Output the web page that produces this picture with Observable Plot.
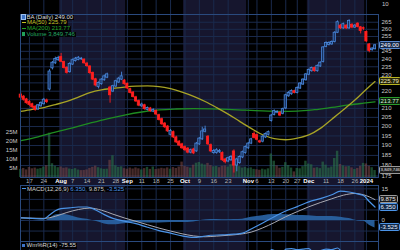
<!DOCTYPE html>
<html><head><meta charset="utf-8">
<script src="https://cdn.jsdelivr.net/npm/d3@7"></script>
<script src="https://cdn.jsdelivr.net/npm/@observablehq/plot@0.6"></script>
<style>
body{margin:0;background:#000;}
#c{position:relative;width:400px;height:250px;overflow:hidden;background:#000;font-family:"Liberation Sans",Arial,sans-serif;}
#c svg{position:absolute;left:0;}
.lg{position:absolute;font-size:6px;line-height:5.7px;white-space:nowrap;}
.lg div{background:rgba(0,0,0,0.85);display:table;padding-right:1px;}
.ic{display:inline-block;width:3.5px;height:3.5px;margin:0 1.5px 0 0.5px;vertical-align:0px;}
.ln{display:inline-block;width:4px;height:1px;margin:0 1.5px 1.5px 0.5px;}
.bx{position:absolute;left:378.5px;font-size:6px;line-height:6px;height:6px;padding:0 1px;border:1px solid;border-radius:1.5px;white-space:nowrap;color:#fff;}
</style></head>
<body><div id="c"></div>
<script>
// ---------- data ----------
const firstIndex = 2; // trading-day index of the first visible candle (2023-07-12)
const opens  = [218.0,216.8,215.2,213.8,212.4,211.0,209.4,211.2,212.4,214.6,221.0,234.0,237.2,239.2,241.2,238.0,234.4,231.6,236.4,238.6,239.4,239.8,239.6,237.0,235.2,231.2,227.2,222.6,224.2,226.6,228.2,222.2,219.8,222.8,225.2,227.0,226.4,224.4,221.2,219.2,216.4,214.2,211.2,211.8,209.2,210.0,208.2,208.6,206.2,204.0,201.6,200.0,195.6,197.0,194.2,192.0,190.6,189.2,188.4,186.4,188.0,187.0,190.6,193.2,197.2,194.6,190.2,186.2,186.2,186.6,186.2,183.0,182.0,182.6,187.0,180.0,181.2,184.0,186.2,188.6,191.0,196.0,195.4,192.2,192.0,194.2,195.6,203.0,206.4,207.6,207.6,207.0,210.0,217.0,218.2,220.0,219.0,221.6,224.0,226.6,230.0,232.2,234.2,232.2,235.2,238.0,248.0,249.2,249.6,251.2,257.6,262.6,260.6,262.6,260.6,263.2,261.2,264.0,261.4,260.8,258.2,249.6,245.8,246.4];
const highs  = [219.0,217.5,215.8,214.5,213.0,211.6,212.3,213.8,215.8,215.4,233.2,238.4,241.2,241.8,243.6,238.6,235.0,237.6,240.0,241.0,241.6,241.0,240.0,237.8,235.6,231.6,227.8,225.6,227.6,229.8,231.0,223.0,223.6,226.6,228.4,231.6,227.0,225.0,221.8,219.8,217.0,214.8,213.0,212.4,210.8,210.6,209.8,209.2,206.8,204.6,202.2,200.6,198.4,197.6,194.8,192.6,191.2,189.8,189.0,188.2,188.6,191.6,194.2,199.6,200.2,195.2,190.8,188.0,188.4,188.0,186.8,183.6,184.2,185.0,187.8,183.6,184.8,187.2,189.8,191.6,193.8,197.2,196.0,192.8,195.2,196.6,197.6,206.6,209.2,208.8,208.2,210.2,218.2,219.8,220.8,220.6,222.6,225.2,227.6,230.8,233.6,234.8,234.8,236.2,238.2,248.2,251.4,251.4,252.0,258.4,266.0,263.4,264.4,263.2,266.8,264.0,263.4,264.6,262.0,261.6,258.8,250.2,247.6,249.6];
const lows   = [215.5,214.2,212.4,211.2,210.0,208.4,209.0,210.6,212.0,212.8,220.2,233.0,236.4,238.4,237.6,233.6,230.4,231.0,235.8,238.0,238.8,239.0,236.6,234.6,230.2,226.4,222.6,221.4,223.6,226.0,227.6,213.0,219.2,222.2,224.6,226.4,223.6,221.0,218.4,216.0,213.4,211.0,210.6,209.0,208.6,207.8,207.6,206.0,203.0,200.6,199.0,196.8,195.0,193.6,191.0,189.4,188.0,187.0,185.8,185.8,185.4,186.6,190.0,192.6,196.6,190.0,186.4,185.6,185.6,186.0,182.0,180.8,181.4,182.0,176.4,177.0,180.6,183.4,185.6,188.0,190.4,193.4,192.4,191.0,191.4,193.6,195.0,202.4,205.8,207.0,205.4,206.4,209.4,216.4,217.6,218.4,218.4,221.0,223.4,226.0,229.4,231.6,231.6,231.6,234.6,237.4,247.4,248.6,249.0,250.6,257.0,259.8,260.0,259.8,260.0,260.4,260.6,261.0,256.8,259.2,251.0,244.0,245.0,245.8];
const closes = [216.2,215.0,213.0,212.0,210.6,209.2,211.8,213.2,215.0,213.6,232.0,237.6,240.0,240.6,238.2,234.2,231.2,236.8,239.2,240.2,240.8,240.2,237.2,235.4,231.0,227.0,223.4,225.0,227.0,229.0,230.2,217.6,223.0,226.0,227.6,229.0,224.2,221.6,219.0,216.6,214.0,211.6,212.2,209.6,210.2,208.4,209.2,206.6,203.6,201.2,199.6,197.4,197.6,194.2,191.6,190.0,188.6,187.6,186.4,187.6,186.0,191.0,193.6,197.4,198.4,190.6,187.0,187.2,187.6,187.2,182.6,181.6,183.6,184.2,180.0,183.0,184.2,186.6,189.2,191.0,193.2,194.0,193.0,191.6,194.6,196.0,197.0,206.0,208.6,208.0,206.0,209.6,217.6,219.0,220.2,219.0,222.0,224.6,227.0,230.2,233.0,234.2,232.2,235.6,237.6,247.6,250.6,250.6,251.2,257.6,265.0,260.6,263.6,260.6,266.0,261.2,262.6,261.6,258.8,260.4,251.6,245.2,246.8,249.0];
const volumesM = [4.5,5.0,4.2,5.5,4.8,5.2,4.6,4.9,5.8,6.5,24.5,7.6,6.2,5.4,5.8,5.1,5.3,4.7,4.4,4.9,4.1,3.8,3.9,4.2,5.0,5.6,6.3,5.4,4.8,4.5,4.6,9.5,12.0,6.5,5.6,5.9,4.9,4.6,5.2,4.7,5.3,4.8,4.2,4.9,5.6,4.5,5.8,4.4,4.7,5.1,4.8,5.3,4.6,5.5,5.0,5.8,8.5,6.2,5.7,5.2,6.8,7.9,8.3,7.4,6.9,7.8,6.6,5.9,6.1,5.4,6.2,6.4,5.8,7.1,9.3,7.6,6.0,5.2,5.6,4.9,5.3,4.5,4.3,4.0,4.6,4.2,4.8,13.0,9.0,6.4,5.1,5.6,8.2,6.6,5.2,3.1,5.0,4.8,6.0,9.0,7.4,7.0,5.1,5.4,4.9,8.5,6.8,5.2,5.8,10.5,14.5,7.2,6.4,5.9,6.1,5.3,4.4,5.0,6.2,7.8,7.5,6.2,5.4,3.85];

const ma50Idx = [2,6,10,14,18,22,26,30,34,38,42,46,50,54,58,62,66,70,74,78,82,86,90,94,98,102,106,110,114,118,122,125];
const ma50Val = [208.3,209.5,210.5,212.2,214.0,216.5,219.2,220.8,221.7,222.5,223.0,223.2,222.8,221.5,219.5,217.0,214.0,210.5,206.8,202.8,199.0,195.6,193.6,193.0,193.8,195.5,199.0,204.0,209.2,214.8,221.2,225.79];
const ma200Idx = [2,8,14,20,26,32,38,44,50,56,62,68,74,80,86,92,98,104,110,116,121,125];
const ma200Val = [192.5,194.5,197.0,199.3,201.8,204.2,206.3,208.0,209.2,209.7,209.9,209.8,209.5,209.0,208.6,208.4,208.5,209.3,210.6,212.0,213.0,213.77];

const macdIdx = [2,6,10,12,14,16,19,22,25,28,31,34,38,42,46,50,54,58,62,65,68,72,76,79,82,86,90,94,98,102,106,110,113,116,119,121,123,125];
const macdVal = [1.2,1.0,0.8,2.6,4.6,5.6,6.0,6.4,6.4,5.0,2.8,1.0,-0.3,-1.5,-3.2,-4.8,-6.0,-7.3,-8.0,-7.6,-7.0,-6.8,-6.5,-6.0,-4.0,-1.2,1.8,4.5,6.6,8.8,10.4,12.2,13.9,13.5,12.6,11.8,9.0,6.35];
const signalIdx = [2,10,14,18,22,26,30,34,38,42,46,50,54,58,62,66,70,74,78,82,86,90,94,98,102,106,110,114,118,121,123,125];
const signalVal = [1.3,1.0,2.0,3.8,5.2,5.9,4.9,3.0,1.2,-0.4,-2.0,-3.6,-5.0,-6.3,-7.3,-7.7,-7.4,-7.0,-6.5,-5.5,-3.5,-1.0,1.8,4.2,6.5,8.5,10.3,12.0,12.8,12.2,11.2,9.875];
const histIdx = macdIdx;
const histVal = [-0.1,0.0,-0.2,0.8,2.6,3.0,2.4,1.2,0.6,-0.4,-1.6,-2.0,-1.5,-1.1,-1.2,-1.2,-1.0,-1.0,-0.7,0.1,0.5,0.4,0.5,0.6,1.5,2.3,2.8,2.7,2.4,2.3,1.9,1.9,1.6,0.9,-0.2,-0.4,-2.2,-3.525];
const wrIdx = [2,5,8,10,12,14,16,18,20,23,26,28,31,33,35,37,40,43,46,50,54,58,62,65,67,70,73,76,79,82,84,86,88,89,91,93,94,96,98,100,102,104,106,108,110,112,114,116,118,120,122,123,125];
const wrVal = [-70,-85,-75,-45,-12,-6,-10,-45,-22,-18,-55,-88,-45,-85,-40,-28,-75,-92,-80,-90,-82,-92,-85,-25,-62,-75,-85,-90,-50,-25,-35,-30,-20,-4,-8,-10,-3,-2,-4,-3,-2,-12,-6,-3,-4,-1,-10,-6,-15,-30,-70,-90,-75.55];

const tickIdx = [5,10,16,20,25,30,35,39,44,49,54,59,64,69,74,81,84,89,94,98,102,108,113,118,122];
const tickLabels = ["17","24","Aug","7","14","21","28","Sep","11","18","25","Oct","9","16","23","Nov","6","13","20","27","Dec","11","18","26","2024"];
const monthNames = ["Aug","Sep","Oct","Nov","Dec","2024"];
const monthEdges = [1.9,15.5,38.5,58.5,80.5,101.5,121.5,126.2];
const priceGridTicks = [175,180,185,190,195,200,205,210,215,220,225,230,235,240,245,250,255,260,265];
const priceLabelTicks = [175,180,185,190,195,200,205,210,220,230,235,240,245,255,260,265]; // 215, 225, 250 sit under the value boxes
const volTicks = [5,10,15,20,25];
const macdGrid = [15,10,5,0,-5];
const macdTicks = [15,0];
const topPanelTick = "10";

const lastClose = 249.00, lastMa50 = 225.79, lastMa200 = 213.77, lastVolume = 3849746;
const lastMacd = 6.350, lastSignal = 9.875, lastHist = -3.525, lastWr = -75.55;

// ---------- tables ----------
const candles = opens.map((o,k) => ({
  i: k + firstIndex, o, h: highs[k], l: lows[k], c: closes[k], up: closes[k] >= o,
  vol: volumesM[k], volUp: k === 0 ? true : closes[k] >= closes[k-1]
}));
const pairs = (ix, vs) => ix.map((i,k) => ({i, v: vs[k]}));
const ma50 = pairs(ma50Idx, ma50Val), ma200 = pairs(ma200Idx, ma200Val);
const macd = pairs(macdIdx, macdVal), signal = pairs(signalIdx, signalVal), hist = pairs(histIdx, histVal);
const wr = pairs(wrIdx, wrVal);
const xLabels = tickIdx.map((i,k) => ({i, t: tickLabels[k], month: monthNames.includes(tickLabels[k])}));
const bands = monthEdges.slice(0,-1).map((s,k) => ({s, e: monthEdges[k+1], navy: k % 2 === 1}));

// ---------- style ----------
const GRID = "#1a2a4c", BORDER = "#2a4a7e", NAVY = "#16162e";
const BLUE = "#4a88dc", BLUEFILL = "#17315e", RED = "#ff1f1f";
const xDomain = [monthEdges[0], monthEdges[monthEdges.length-1]];
const base = {
  width: 400, marginLeft: 20, marginRight: 22,
  x: {domain: xDomain, axis: null},
  color: {type: "identity"},
  style: "background:transparent;overflow:visible;font-family:'Liberation Sans',Arial,sans-serif;"
};
const c = document.getElementById("c");
function place(svg, top) { svg.style.top = top + "px"; c.appendChild(svg); return svg; }

// background month bands + weekly grid
place(Plot.plot({...base, height: 250, marginTop: 0, marginBottom: 0,
  y: {domain: [0,1], axis: null},
  marks: [
    Plot.rect(bands, {x1: "s", x2: "e", y1: 0, y2: 1, fill: d => d.navy ? NAVY : "#000"}),
    Plot.ruleX(tickIdx, {stroke: GRID, strokeWidth: 1})
  ]}), 0);

const priceY = {type: "log", domain: [174.3, 270.6]};
const mainGeom = {height: 185, marginTop: 14, marginBottom: 8};

// price grid
place(Plot.plot({...base, ...mainGeom, y: {...priceY, axis: null},
  marks: [Plot.ruleY(priceGridTicks, {stroke: GRID})]}), 0);

// volume
const volPlot = place(Plot.plot({...base, ...mainGeom, y: {domain: [0, 90]},
  marks: [
    Plot.rect(candles, {x1: d => d.i - 0.42, x2: d => d.i + 0.42, y1: 0, y2: "vol",
      fill: d => d.volUp ? "#2c744a" : "#774646", fillOpacity: 0.6}),
    Plot.axisY(volTicks, {anchor: "left", tickSize: 0, tickPadding: 3, fontSize: 6, fill: "#c8c8c8",
      tickFormat: d => d + "M", label: null})
  ]}), 0);

// price candles + MAs
const pricePlot = place(Plot.plot({...base, ...mainGeom, y: priceY,
  marks: [
    Plot.line(ma200, {x: "i", y: "v", stroke: "#1f8c22", strokeWidth: 1.3, curve: "monotone-x"}),
    Plot.line(ma50, {x: "i", y: "v", stroke: "#a7a325", strokeWidth: 1.3, curve: "monotone-x"}),
    Plot.ruleX(candles, {x: "i", y1: "l", y2: "h", stroke: d => d.up ? BLUE : RED, strokeWidth: 0.9}),
    Plot.rect(candles, {x1: d => d.i - 0.38, x2: d => d.i + 0.38, y1: "o", y2: "c",
      fill: d => d.up ? BLUEFILL : RED, stroke: d => d.up ? BLUE : RED, strokeWidth: 0.8}),
    Plot.frame({stroke: BORDER}),
    Plot.axisY(priceLabelTicks, {anchor: "right", tickSize: 0, tickPadding: 3, fontSize: 6, fill: "#c8c8c8",
      tickFormat: d => String(d), label: null}),
    Plot.text(xLabels.filter(d => !d.month), {x: "i", text: "t", frameAnchor: "bottom", dy: 5.5,
      fontSize: 6, fill: "#b4b4b4"}),
    Plot.text(xLabels.filter(d => d.month), {x: "i", text: "t", frameAnchor: "bottom", dy: 5.5,
      fontSize: 6, fontWeight: "bold", fill: "#ffffff"})
  ]}), 0);

// MACD panel
const macdTop = 185;
const macdPlot = place(Plot.plot({...base, height: 56, marginTop: 0, marginBottom: 0,
  y: {domain: [-9.95, 16.59]},
  marks: [
    Plot.ruleY(macdGrid, {stroke: GRID}),
    Plot.areaY(hist, {x: "i", y: "v", fill: "#2a65a6", fillOpacity: 0.9, curve: "monotone-x"}),
    Plot.line(signal, {x: "i", y: "v", stroke: "#a9a9b2", strokeWidth: 1, curve: "monotone-x"}),
    Plot.line(macd, {x: "i", y: "v", stroke: "#4b93e6", strokeWidth: 1.2, curve: "monotone-x"}),
    Plot.frame({stroke: BORDER}),
    Plot.axisY(macdTicks, {anchor: "right", tickSize: 0, tickPadding: 3, fontSize: 6, fill: "#c8c8c8",
      tickFormat: d => String(d), label: null})
  ]}), macdTop);

// Williams %R panel (top part visible)
const wrTop = 241;
place(Plot.plot({...base, height: 60, marginTop: 0, marginBottom: 0,
  y: {domain: [-100, 11], axis: null},
  marks: [
    Plot.line(wr, {x: "i", y: "v", stroke: "#4b93e6", strokeWidth: 1.2, curve: "monotone-x"}),
    Plot.frame({stroke: BORDER})
  ]}), wrTop);

// ---------- HTML overlays (legends, value boxes) ----------
function html(s) { const d = document.createElement("div"); d.innerHTML = s; const n = d.firstElementChild; c.appendChild(n); return n; }
const fmt2 = v => v.toFixed(2), fmt3 = v => v.toFixed(3);

html(`<div class="lg" style="left:21px;top:14.6px">
 <div><span class="ic" style="background:#3d74c8;outline:0.5px solid #9cc0ee"></span><span style="color:#dcdcdc">BA (Daily) ${fmt2(lastClose)}</span></div>
 <div><span class="ln" style="background:#c4c020"></span><span style="color:#c8c428">MA(50) ${fmt2(lastMa50)}</span></div>
 <div><span class="ln" style="background:#22a024"></span><span style="color:#26a82a">MA(200) ${fmt2(lastMa200)}</span></div>
 <div><span class="ic" style="background:#22a05a"></span><span style="color:#25a862">Volume ${d3.format(",")(lastVolume)}</span></div>
</div>`);
html(`<div class="lg" style="left:21px;top:186.5px"><div><span class="ln" style="background:#4b93e6"></span><span style="color:#d0d0d0">MACD(12,26,9) </span><span style="color:#4b93e6">${fmt3(lastMacd)}, </span><span style="color:#c8c8c8">${fmt3(lastSignal)}, </span><span style="color:#4b93e6">${fmt3(lastHist)}</span></div></div>`);
html(`<div class="lg" style="left:21px;top:243.3px"><div><span class="ic" style="background:#3d74c8"></span><span style="color:#d8d8d8">Wm%R(14) ${fmt2(lastWr)}</span></div></div>`);
html(`<div class="lg" style="left:382px;top:2px;color:#c8c8c8">${topPanelTick}</div>`);

function box(text, yPx, border, bg, color, size) {
  const b = html(`<div class="bx">${text}</div>`);
  b.style.top = (yPx - 4) + "px"; b.style.borderColor = border; b.style.background = bg; b.style.color = color;
  if (size) { b.style.fontSize = size + "px"; }
}
const py = pricePlot.scale("y"), vy = volPlot.scale("y"), my = macdPlot.scale("y");
box(d3.format(",")(lastVolume), vy.apply(lastVolume / 1e6), "#9a9a9a", "#1a1a1a", "#e8e8e8", 4.4);
box(fmt2(lastMa200), py.apply(lastMa200), "#2a9a2a", "#0c200c", "#d8f0d8");
box(fmt2(lastMa50), py.apply(lastMa50), "#b8b420", "#262408", "#f0eec0");
box(fmt2(lastClose), py.apply(lastClose), "#5a8ad0", "#14284a", "#ffffff");
box(fmt3(lastSignal), macdTop + my.apply(lastSignal), "#9a9a9a", "#1a1a1a", "#e8e8e8");
box(fmt3(lastMacd), macdTop + my.apply(lastMacd), "#4b93e6", "#102848", "#e8f0ff");
box(fmt3(lastHist), macdTop + my.apply(lastHist), "#4b93e6", "#102848", "#e8f0ff");
</script></body></html>
